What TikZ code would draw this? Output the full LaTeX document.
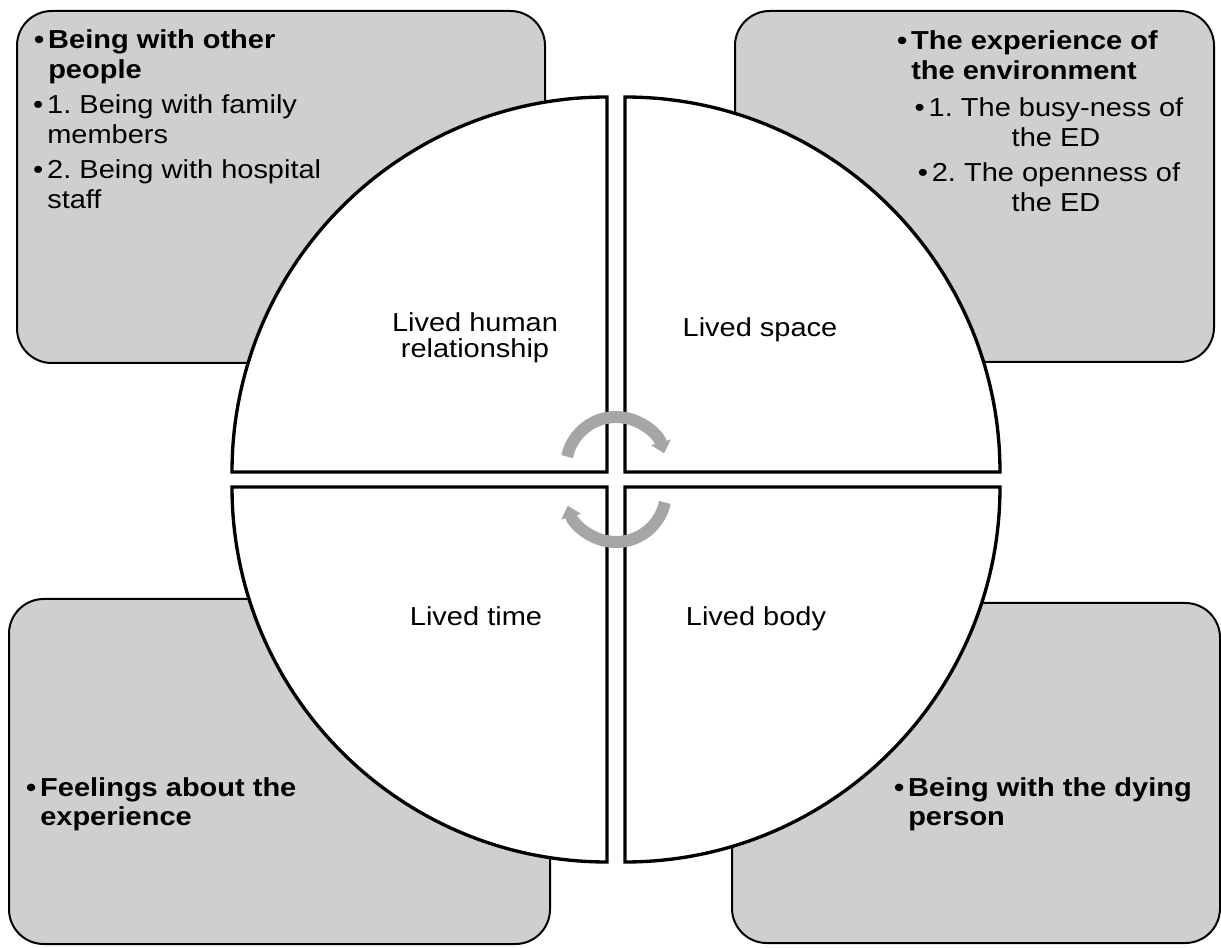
\documentclass[tikz,border=0pt]{standalone}
\usepackage{fontspec}
\setmainfont{Liberation Sans}[FakeStretch=1.115]
\usetikzlibrary{arrows.meta}
\definecolor{boxgray}{RGB}{207,207,207}
\definecolor{arrowgray}{RGB}{166,166,166}
\newcommand\itembul{\llap{\textbullet\hspace{3pt}}}
\frenchspacing
\begin{document}
\begin{tikzpicture}[x=0.75pt,y=0.75pt,
  themebox/.style={fill=boxgray,draw=black,line width=1.5pt,rounded corners=26pt},
  quad/.style={fill=white,draw=black,line width=2.5pt,line join=miter},
  cyc/.style={draw=arrowgray,line width=9pt,-{Triangle[width=15pt,length=8.5pt]}},
  txt/.style={inner sep=0pt,font=\fontsize{19.5}{22}\selectfont},
  btxt/.style={inner sep=0pt,font=\fontsize{19.5}{22}\selectfont\bfseries}]
\useasboundingbox (0,0) rectangle (1221,947);

% theme boxes
\draw[themebox] (17,584) rectangle (545,936);
\draw[themebox] (735,585) rectangle (1214,936);
\draw[themebox] (9,3) rectangle (550,348);
\draw[themebox] (732,4) rectangle (1220,344);

% quadrants
\draw[quad] (607,475) -- (232,475) arc[start angle=180,end angle=90,radius=375] -- cycle;
\draw[quad] (625,475) -- (625,850) arc[start angle=90,end angle=0,radius=375] -- cycle;
\draw[quad] (607,460) -- (607,85) arc[start angle=270,end angle=180,radius=375] -- cycle;
\draw[quad] (625,460) -- (1000,460) arc[start angle=0,end angle=-90,radius=375] -- cycle;

% cycle arrows
\draw[cyc] (567.09,490.40) arc[start angle=168,end angle=16,radius=50];
\draw[cyc] (664.91,444.60) arc[start angle=-12,end angle=-164,radius=50];

% top-left box text
\node[btxt,anchor=base west] (tl1) at (48,898) {\itembul Being with other};
\node[btxt,anchor=base west] (tl2) at (48,868) {people};
\node[txt,anchor=base west] (tl3) at (47,833) {\itembul 1. Being with family};
\node[txt,anchor=base west] (tl4) at (47,803) {members};
\node[txt,anchor=base west] (tl5) at (47,768) {\itembul 2. Being with hospital};
\node[txt,anchor=base west] (tl6) at (47,738) {staff};

% top-right box text
\node[btxt,anchor=base west] (tr1) at (911,897) {\itembul The experience of};
\node[btxt,anchor=base west] (tr2) at (911,867) {the environment};
\node[txt,anchor=base] (tr3) at (1056,830) {\itembul 1. The busy-ness of};
\node[txt,anchor=base] (tr4) at (1056,800) {the ED};
\node[txt,anchor=base] (tr5) at (1056,765) {\itembul 2. The openness of};
\node[txt,anchor=base] (tr6) at (1056,735) {the ED};

% quadrant labels
\node[txt,anchor=base] (q1a) at (475,615) {Lived human};
\node[txt,anchor=base] (q1b) at (475,589) {relationship};
\node[txt,anchor=base] (q2) at (760,610) {Lived space};
\node[txt,anchor=base] (q3) at (476,321) {Lived time};
\node[txt,anchor=base] (q4) at (756,321) {Lived body};

% bottom boxes text
\node[btxt,anchor=base west] (bl1) at (40,151) {\itembul Feelings about the};
\node[btxt,anchor=base west] (bl2) at (40,122) {experience};
\node[btxt,anchor=base west] (br1) at (908,151) {\itembul Being with the dying};
\node[btxt,anchor=base west] (br2) at (908,122) {person};
\end{tikzpicture}
\end{document}
